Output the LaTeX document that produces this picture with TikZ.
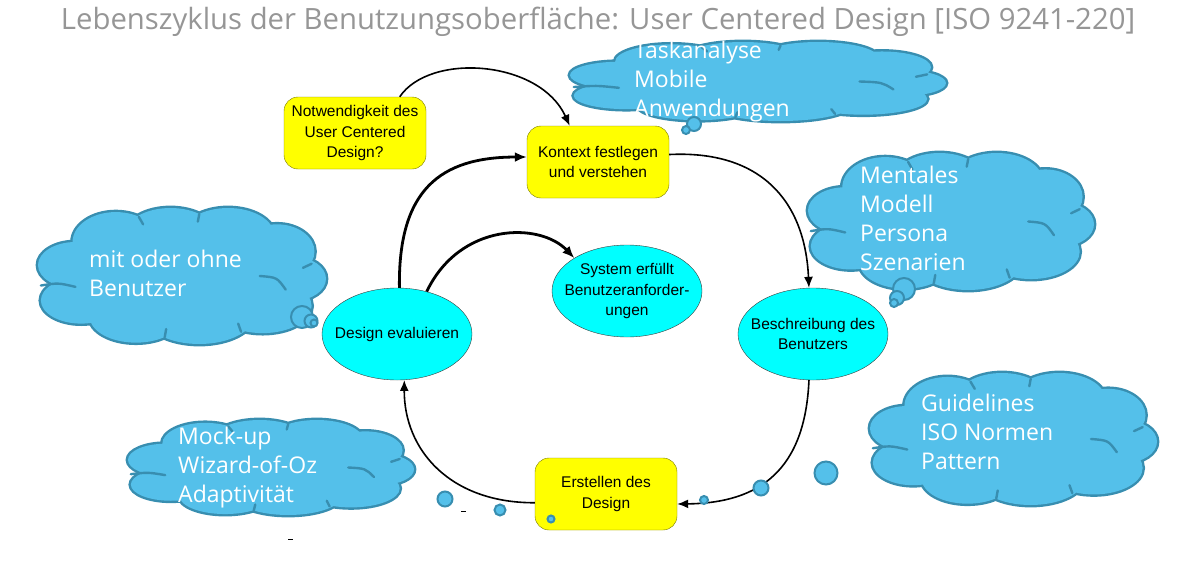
\documentclass[tikz,border=0pt]{standalone}
\usepackage{fontspec}
\usetikzlibrary{shapes.geometric,arrows.meta}
\newfontfamily\titlefont{Open Sans}
\newfontfamily\cloudfont{Open Sans}
\newfontfamily\boxfont{Liberation Sans}
\definecolor{cloudfill}{RGB}{84,192,234}
\definecolor{cloudline}{RGB}{56,142,176}
\definecolor{titlegray}{RGB}{150,150,150}
\definecolor{boxline}{RGB}{120,120,0}
\definecolor{ellline}{RGB}{60,60,60}
\definecolor{ellfill}{RGB}{0,255,255}
\definecolor{boxfill}{RGB}{255,255,0}
% puffs of a cloud in a unit square
\newcommand{\puffs}{(0.13,0.42) ellipse [x radius=.13,y radius=.17]
  (0.15,0.68) ellipse [x radius=.14,y radius=.17]
  (0.27,0.25) ellipse [x radius=.15,y radius=.22]
  (0.46,0.2) ellipse [x radius=.16,y radius=.2]
  (0.66,0.2) ellipse [x radius=.16,y radius=.2]
  (0.83,0.32) ellipse [x radius=.13,y radius=.2]
  (0.89,0.52) ellipse [x radius=.11,y radius=.16]
  (0.78,0.72) ellipse [x radius=.17,y radius=.2]
  (0.56,0.79) ellipse [x radius=.19,y radius=.21]
  (0.34,0.8) ellipse [x radius=.16,y radius=.19]
  (0.5,0.5) ellipse [x radius=.38,y radius=.3]}
% name, left, top, width, height
\newcommand{\thoughtcloud}[5]{%
  \begin{scope}[shift={(#2,#3)},x=#4pt,y=-#5pt]
    \draw[cloudline,line width=4.8pt] \puffs;
    \fill[cloudfill] \puffs;
    \draw[crease] (0.01,0.57) .. controls (0.07,0.55) .. (0.13,0.58);
    \draw[crease] (0.95,0.41) -- (0.92,0.44);
    \draw[crease] (0.77,0.5) .. controls (0.83,0.51) .. (0.86,0.6);
    \draw[crease] (0.705,0.91) -- (0.695,0.85);
    \draw[crease] (0.44,0.95) -- (0.445,0.89);
    \draw[crease] (0.56,0.045) -- (0.555,0.1);
    \draw[crease] (0.35,0.065) -- (0.365,0.12);
    \coordinate (#1) at (0.5,0.5);
  \end{scope}}
\begin{document}
\begin{tikzpicture}[x=1pt,y=-1pt,
  box/.style={rectangle,rounded corners=14pt,draw=boxline,fill=boxfill,minimum width=142pt,minimum height=72pt,inner sep=1pt,align=center,font={\boxfont\fontsize{15.5}{20.5}\selectfont}},
  ell/.style={ellipse,draw=ellline,fill=ellfill,minimum width=150pt,minimum height=92pt,inner xsep=-13pt,inner ysep=2pt,align=center,font={\boxfont\fontsize{15.5}{20.5}\selectfont}},
  crease/.style={cloudline,line width=2.4pt,line cap=round},
  bubble/.style={circle,draw=cloudline,fill=cloudfill,line width=2pt,inner sep=0pt},
  cloudtext/.style={text=white,font={\cloudfont\fontsize{23}{29}\selectfont},align=left,inner sep=0pt,anchor=base west},
  flow/.style={line width=1.6pt,-{Latex[length=11pt,width=9pt]}},
  bigflow/.style={line width=2.8pt,-{Latex[length=12pt,width=10pt]}}]
\useasboundingbox (0,0) rectangle (1192,562);

\node[anchor=base,text=titlegray,font={\titlefont\fontsize{29.3}{32}\selectfont}] (title) at (598,30) {Lebenszyklus der Benutzungsoberfläche: User Centered Design [ISO 9241-220]};

% clouds
\thoughtcloud{taskcloud}{570}{42}{376}{79}
\thoughtcloud{usercloud}{808}{153}{286}{137}
\thoughtcloud{evalcloud}{38}{208}{288}{136}
\thoughtcloud{normcloud}{870}{373}{287}{132}
\thoughtcloud{protocloud}{128}{420}{286}{95}

% cycle
\node[box] (notw) at (355,133) {Notwendigkeit des\\User Centered\\Design?};
\node[box] (kontext) at (598,162) {Kontext festlegen\\und verstehen};
\node[box] (erst) at (606,494) {Erstellen des\\Design};
\node[ell] (deseval) at (397,334) {Design evaluieren};
\node[ell] (system) at (627,291) {System erfüllt\\Benutzeranforder-\\ungen};
\node[ell] (beschr) at (813,334) {Beschreibung des\\Benutzers};

\draw[flow] (notw.39) .. controls (430,52) and (540,60) .. (kontext.128);
\draw[flow] (kontext.6) .. controls (760,150) and (805,200) .. (beschr.95);
\draw[flow] (beschr.-95) .. controls (805,470) and (760,503) .. (erst.-8);
\draw[flow] (erst.187) .. controls (450,503) and (404,450) .. (deseval.-81);
\draw[bigflow] (deseval.87) .. controls (398,190) and (440,157) .. (kontext.176);
\draw[bigflow] (deseval.55) .. controls (460,222) and (540,222) .. (system.148);

% thought bubbles
\node[bubble,minimum size=14pt] (t1) at (694,124) {};
\node[bubble,minimum size=8pt] (t2) at (686,130) {};
\node[bubble,minimum size=22pt] (u1) at (904,289) {};
\node[bubble,minimum size=14pt] (u2) at (897,298) {};
\node[bubble,minimum size=8pt] (u3) at (894,303) {};
\node[bubble,minimum size=22pt] (e1) at (302,317) {};
\node[bubble,minimum size=13pt] (e2) at (311,321) {};
\node[bubble,minimum size=7pt] (e3) at (314,323) {};
\node[bubble,minimum size=23pt] (n1) at (826,473) {};
\node[bubble,minimum size=15pt] (n2) at (761,488) {};
\node[bubble,minimum size=8pt] (n3) at (704,500) {};
\node[bubble,minimum size=15pt] (p1) at (445,499) {};
\node[bubble,minimum size=11pt] (p2) at (500,510) {};
\node[bubble,minimum size=7pt] (p3) at (551,519) {};

\draw[line width=0.8pt] (461,511) -- (466,511);
\draw[line width=0.8pt] (288,539) -- (293,539);

% cloud texts (anchored at the last line)
\node[cloudtext] (tasktext) at (634,116) {Taskanalyse\\Mobile\\Anwendungen};
\node[cloudtext] (usertext) at (860,270) {Mentales\\Modell\\Persona\\Szenarien};
\node[cloudtext] (evaltext) at (89,296) {mit oder ohne\\Benutzer};
\node[cloudtext] (normtext) at (921,469) {Guidelines\\ISO Normen\\Pattern};
\node[cloudtext] (prototext) at (178,502) {Mock-up\\Wizard-of-Oz\\Adaptivität};
\end{tikzpicture}
\end{document}
